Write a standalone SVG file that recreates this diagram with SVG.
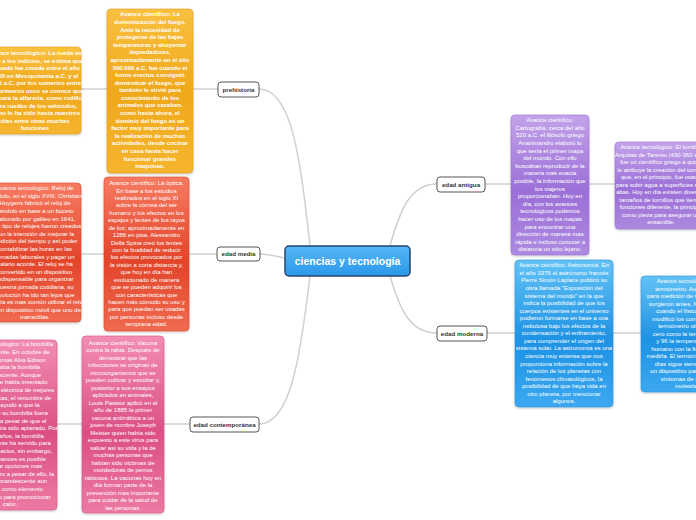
<svg xmlns="http://www.w3.org/2000/svg" width="696" height="520" viewBox="0 0 696 520">
<defs>
<linearGradient id="gO" x1="0" y1="0" x2="0" y2="1"><stop offset="0" stop-color="#f9c040"/><stop offset="0.5" stop-color="#f0a81c"/><stop offset="1" stop-color="#f5b52e"/></linearGradient>
<linearGradient id="gR" x1="0" y1="0" x2="0" y2="1"><stop offset="0" stop-color="#f77b62"/><stop offset="0.55" stop-color="#e2452a"/><stop offset="1" stop-color="#f06a50"/></linearGradient>
<linearGradient id="gP" x1="0" y1="0" x2="0" y2="1"><stop offset="0" stop-color="#f28db3"/><stop offset="0.55" stop-color="#dc4f84"/><stop offset="1" stop-color="#ec7aa3"/></linearGradient>
<linearGradient id="gV" x1="0" y1="0" x2="0" y2="1"><stop offset="0" stop-color="#c3a3ea"/><stop offset="0.55" stop-color="#9b6fd7"/><stop offset="1" stop-color="#ad8ae0"/></linearGradient>
<linearGradient id="gB" x1="0" y1="0" x2="0" y2="1"><stop offset="0" stop-color="#62c2f6"/><stop offset="0.55" stop-color="#1e92e4"/><stop offset="1" stop-color="#3ba8f0"/></linearGradient>
<linearGradient id="gC" x1="0" y1="0" x2="0" y2="1"><stop offset="0" stop-color="#56b6f6"/><stop offset="1" stop-color="#2a98ea"/></linearGradient>
<filter id="sh" x="-10%" y="-10%" width="120%" height="120%"><feDropShadow dx="0" dy="1" stdDeviation="1" flood-color="#000" flood-opacity="0.25"/></filter>
</defs>
<style>
.t{font-family:"Liberation Sans",Arial,sans-serif;font-size:6px;fill:#ffffff;text-anchor:middle}
.bold{font-weight:bold}
.bo{fill:url(#gO);stroke:#e39c18;stroke-width:0.6;filter:url(#sh)}
.br{fill:url(#gR);stroke:#d9462c;stroke-width:0.6;filter:url(#sh)}
.bp{fill:url(#gP);stroke:#d8508a;stroke-width:0.6;filter:url(#sh)}
.bv{fill:url(#gV);stroke:#9a70d4;stroke-width:0.6;filter:url(#sh)}
.bb{fill:url(#gB);stroke:#2a90dc;stroke-width:0.6;filter:url(#sh)}
.lab{fill:#ffffff;stroke:#555555;stroke-width:1}
.lt{font-family:"Liberation Sans",Arial,sans-serif;font-size:6.2px;font-weight:bold;fill:#333333;text-anchor:middle}
.c{fill:none;stroke:#d0d0d0;stroke-width:1.5}
</style>
<rect width="696" height="520" fill="#ffffff"/>
<g id="connectors">
<path class="c" d="M310,246 C300,150 290,89 259,89"/>
<path class="c" d="M285,258 C275,256 268,254 260,254"/>
<path class="c" d="M310,276 C300,360 290,424 259,424"/>
<path class="c" d="M390,246 C400,210 410,184 437,184"/>
<path class="c" d="M390,276 C400,310 410,333 437,333"/>
<path class="c" d="M218,89 L81,89"/>
<path class="c" d="M217,254 L81,254"/>
<path class="c" d="M190,424 L57,424"/>
<path class="c" d="M485,184 L615,184"/>
<path class="c" d="M487,333 L641,333"/>
</g>
<g id="central">
<rect x="285" y="246" width="125" height="30" rx="4" fill="url(#gC)" stroke="#24456e" stroke-width="1.5"/>
<text x="347.5" y="265" font-family="Liberation Sans,Arial,sans-serif" font-size="10.5" font-weight="bold" fill="#ffffff" text-anchor="middle">ciencias y tecnología</text>
</g>
<g id="prehistoria"><rect class="lab" x="218" y="82" width="41" height="15" rx="3"/><text class="lt" x="238.5" y="91.8">prehistoria</text></g>
<g id="edad-media"><rect class="lab" x="217" y="247" width="43" height="14" rx="3"/><text class="lt" x="238.5" y="256.2">edad media</text></g>
<g id="edad-contemporanea"><rect class="lab" x="190" y="417" width="69" height="15" rx="3"/><text class="lt" x="224.5" y="426.8">edad contemporánea</text></g>
<g id="edad-antigua"><rect class="lab" x="437" y="177" width="48" height="15" rx="3"/><text class="lt" x="461" y="186.8">edad antigua</text></g>
<g id="edad-moderna"><rect class="lab" x="437" y="326" width="50" height="15" rx="3"/><text class="lt" x="462" y="335.8">edad moderna</text></g>
<g id="rueda">
<rect class="bo" x="-11" y="47" width="92" height="87" rx="4"/>
<text class="t bold" x="35" y="55"><tspan x="35">Avance tecnológico: La rueda en</tspan><tspan x="35" dy="7.53">base a los indicios, se estima que</tspan><tspan x="35" dy="7.53">la rueda fue creada entre el año</tspan><tspan x="35" dy="7.53">3500 en Mesopotamia a.C. y el</tspan><tspan x="35" dy="7.53">3000 a.C. por los sumerios entre</tspan><tspan x="35" dy="7.53">sus primeros usos se conoce que</tspan><tspan x="35" dy="7.53">fue para la alfarería, como rodillo</tspan><tspan x="35" dy="7.53">para ruedas de los vehículos,</tspan><tspan x="35" dy="7.53">como lo ha sido hasta nuestros</tspan><tspan x="35" dy="7.53">días entre otras muchas</tspan><tspan x="35" dy="7.53">funciones</tspan></text>
</g>
<g id="fuego">
<rect class="bo" x="107" y="9" width="86" height="164" rx="4"/>
<text class="t bold" x="150" y="16.3"><tspan x="150">Avance científico: La</tspan><tspan x="150" dy="7.6">domesticación del fuego.</tspan><tspan x="150" dy="7.6">Ante la necesidad de</tspan><tspan x="150" dy="7.6">protegerse de las bajas</tspan><tspan x="150" dy="7.6">temperaturas y ahuyentar</tspan><tspan x="150" dy="7.6">depredadores,</tspan><tspan x="150" dy="7.6">aproximadamente en el año</tspan><tspan x="150" dy="7.6">500.000 a.C. fue cuando el</tspan><tspan x="150" dy="7.6">homo erectus consiguió</tspan><tspan x="150" dy="7.6">domesticar el fuego, que</tspan><tspan x="150" dy="7.6">también le sirvió para</tspan><tspan x="150" dy="7.6">conocimiento de los</tspan><tspan x="150" dy="7.6">animales que cazaban.</tspan><tspan x="150" dy="7.6">como hasta ahora, el</tspan><tspan x="150" dy="7.6">dominio del fuego es un</tspan><tspan x="150" dy="7.6">factor muy importante para</tspan><tspan x="150" dy="7.6">la realización de muchas</tspan><tspan x="150" dy="7.6">actividades, desde cocinar</tspan><tspan x="150" dy="7.6">en casa hasta hacer</tspan><tspan x="150" dy="7.6">funcionar grandes</tspan><tspan x="150" dy="7.6">maquinas.</tspan></text>
</g>
<g id="reloj">
<rect class="br" x="-11" y="183" width="92" height="139" rx="4"/>
<text class="t" x="35" y="190.3"><tspan x="35">Avance tecnológico: Reloj de</tspan><tspan x="35" dy="7.59">péndulo, en el siglo XVIII. Christian</tspan><tspan x="35" dy="7.59">Huygens fabricó el reloj de</tspan><tspan x="35" dy="7.59">péndulo en base a un boceto</tspan><tspan x="35" dy="7.59">elaborado por galileo en 1641.</tspan><tspan x="35" dy="7.59">Este tipo de relojes fueron creados</tspan><tspan x="35" dy="7.59">con la intención de mejorar la</tspan><tspan x="35" dy="7.59">medición del tiempo y así poder</tspan><tspan x="35" dy="7.59">contabilizar las horas en las</tspan><tspan x="35" dy="7.59">jornadas laborales y pagar un</tspan><tspan x="35" dy="7.59">salario acorde. El reloj se ha</tspan><tspan x="35" dy="7.59">convertido en un dispositivo</tspan><tspan x="35" dy="7.59">indispensable para organizar</tspan><tspan x="35" dy="7.59">nuestra jornada cotidiana, su</tspan><tspan x="35" dy="7.59">evolución ha ido tan lejos que</tspan><tspan x="35" dy="7.59">hoy día es mas común utilizar el reloj</tspan><tspan x="35" dy="7.59">en un dispositivo móvil que uno de</tspan><tspan x="35" dy="7.59">manecillas.</tspan></text>
</g>
<g id="optica">
<rect class="br" x="104" y="177" width="85" height="154" rx="4"/>
<text class="t" x="146.5" y="185.1"><tspan x="146.5">Avance científico: La óptica.</tspan><tspan x="146.5" dy="7.43">En base a los estudios</tspan><tspan x="146.5" dy="7.43">realizados en el siglo XI</tspan><tspan x="146.5" dy="7.43">sobre la córnea del ser</tspan><tspan x="146.5" dy="7.43">humano y los efectos en los</tspan><tspan x="146.5" dy="7.43">espejos y lentes de los rayos</tspan><tspan x="146.5" dy="7.43">de luz; aproximadamente en</tspan><tspan x="146.5" dy="7.43">1286 en pisa, Alessandro</tspan><tspan x="146.5" dy="7.43">Della Spina creó los lentes</tspan><tspan x="146.5" dy="7.43">con la finalidad de reducir</tspan><tspan x="146.5" dy="7.43">los efectos provocados por</tspan><tspan x="146.5" dy="7.43">la visión a corta distancia y,</tspan><tspan x="146.5" dy="7.43">que hoy en día han</tspan><tspan x="146.5" dy="7.43">evolucionado de manera</tspan><tspan x="146.5" dy="7.43">que se pueden adquirir los</tspan><tspan x="146.5" dy="7.43">con características que</tspan><tspan x="146.5" dy="7.43">hacen más cómodo su uso y</tspan><tspan x="146.5" dy="7.43">para que puedan ser usadas</tspan><tspan x="146.5" dy="7.43">por personas incluso desde</tspan><tspan x="146.5" dy="7.43">temprana edad.</tspan></text>
</g>
<g id="bombilla">
<rect class="bp" x="-36" y="340" width="93" height="170" rx="4"/>
<text class="t" x="10" y="346.3"><tspan x="10">Avance tecnológico: La bombilla</tspan><tspan x="10" dy="7.62">incandescente. En octubre de</tspan><tspan x="10" dy="7.62">1879, Thomas Alva Edison</tspan><tspan x="10" dy="7.62">presentaba la bombilla</tspan><tspan x="10" dy="7.62">incandescente. Aunque</tspan><tspan x="10" dy="7.62">antes ya se había inventado</tspan><tspan x="10" dy="7.62">una lámpara eléctrica de mejores</tspan><tspan x="10" dy="7.62">características, el renombre de</tspan><tspan x="10" dy="7.62">Edison ayudó a que la</tspan><tspan x="10" dy="7.62">patente de su bombilla fuera</tspan><tspan x="10" dy="7.62">aceptada a pesar de que el</tspan><tspan x="10" dy="7.62">invento ya había sido aplazado. Por</tspan><tspan x="10" dy="7.62">muchos años, la bombilla</tspan><tspan x="10" dy="7.62">incandescente ha servido para</tspan><tspan x="10" dy="7.62">iluminar espacios, sin embargo,</tspan><tspan x="10" dy="7.62">con los avances es posible</tspan><tspan x="10" dy="7.62">encontrar opciones mas</tspan><tspan x="10" dy="7.62">eficientes pero a pesar de ello, la</tspan><tspan x="10" dy="7.62">bombilla incandescente aun</tspan><tspan x="10" dy="7.62">se utiliza como elemento</tspan><tspan x="10" dy="7.62">decorativo o para promocionar</tspan><tspan x="10" dy="7.62">calor.</tspan></text>
</g>
<g id="vacuna">
<rect class="bp" x="82" y="336" width="82" height="177" rx="4"/>
<text class="t" x="123" y="344.5"><tspan x="123">Avance científico: Vacuna</tspan><tspan x="123" dy="7.52">contra la rabia. Después de</tspan><tspan x="123" dy="7.52">demostrar que las</tspan><tspan x="123" dy="7.52">infecciones se originan de</tspan><tspan x="123" dy="7.52">microorganismos que se</tspan><tspan x="123" dy="7.52">pueden cultivar y estudiar y,</tspan><tspan x="123" dy="7.52">posterior a sus ensayos</tspan><tspan x="123" dy="7.52">aplicados en animales,</tspan><tspan x="123" dy="7.52">Louis Pasteur aplicó en el</tspan><tspan x="123" dy="7.52">año de 1885 la primer</tspan><tspan x="123" dy="7.52">vacuna antirrábica a un</tspan><tspan x="123" dy="7.52">joven de nombre Joseph</tspan><tspan x="123" dy="7.52">Meister quien había sido</tspan><tspan x="123" dy="7.52">expuesto a este virus para</tspan><tspan x="123" dy="7.52">salvar así su vida y la de</tspan><tspan x="123" dy="7.52">muchas personas que</tspan><tspan x="123" dy="7.52">habían sido víctimas de</tspan><tspan x="123" dy="7.52">mordeduras de perros</tspan><tspan x="123" dy="7.52">rabiosos. La vacunas hoy en</tspan><tspan x="123" dy="7.52">día forman parte de la</tspan><tspan x="123" dy="7.52">prevención mas importante</tspan><tspan x="123" dy="7.52">para cuidar de la salud de</tspan><tspan x="123" dy="7.52">las personas.</tspan></text>
</g>
<g id="cartografia">
<rect class="bv" x="511" y="115" width="78" height="140" rx="4"/>
<text class="t" x="550" y="122.3"><tspan x="550">Avance científico:</tspan><tspan x="550" dy="7.59">Cartografía, cerca del año</tspan><tspan x="550" dy="7.59">520 a.C. el filósofo griego</tspan><tspan x="550" dy="7.59">Anaximandro elaboró lo</tspan><tspan x="550" dy="7.59">que sería el primer mapa</tspan><tspan x="550" dy="7.59">del mundo. Con ello</tspan><tspan x="550" dy="7.59">buscaban reproducir de la</tspan><tspan x="550" dy="7.59">manera mas exacta</tspan><tspan x="550" dy="7.59">posible, la información que</tspan><tspan x="550" dy="7.59">los viajeros</tspan><tspan x="550" dy="7.59">proporcionaban. Hoy en</tspan><tspan x="550" dy="7.59">día, con los avances</tspan><tspan x="550" dy="7.59">tecnológicos podemos</tspan><tspan x="550" dy="7.59">hacer uso de los mapas</tspan><tspan x="550" dy="7.59">para encontrar una</tspan><tspan x="550" dy="7.59">dirección de manera mas</tspan><tspan x="550" dy="7.59">rápida e incluso conocer a</tspan><tspan x="550" dy="7.59">distancia un sitio lejano.</tspan></text>
</g>
<g id="tornillo">
<rect class="bv" x="615" y="142" width="94" height="87" rx="4"/>
<text class="t" x="661" y="149.3"><tspan x="661">Avance tecnológico: El tornillo.</tspan><tspan x="661" dy="7.47">Arquitas de Tarento (430-360 a.C.)</tspan><tspan x="661" dy="7.47">fue un científico griego a quien</tspan><tspan x="661" dy="7.47">le atribuye la creación del tornillo</tspan><tspan x="661" dy="7.47">que, en el principio, fue usado</tspan><tspan x="661" dy="7.47">para subir agua a superficies mas</tspan><tspan x="661" dy="7.47">altas. Hoy en día existen diversos</tspan><tspan x="661" dy="7.47">tamaños de tornillos que tienen</tspan><tspan x="661" dy="7.47">funciones diferente, la principal</tspan><tspan x="661" dy="7.47">como pieza para asegurar un</tspan><tspan x="661" dy="7.47">ensamble.</tspan></text>
</g>
<g id="astronomia">
<rect class="bb" x="515" y="260" width="98" height="147" rx="4"/>
<text class="t" x="564" y="267.3"><tspan x="564">Avance científico: Astronomía. En</tspan><tspan x="564" dy="7.56">el año 1976 el astrónomo francés</tspan><tspan x="564" dy="7.56">Pierre Simón Laplace publicó su</tspan><tspan x="564" dy="7.56">obra llamada "Exposición del</tspan><tspan x="564" dy="7.56">sistema del mundo" en la que</tspan><tspan x="564" dy="7.56">indica la posibilidad de que los</tspan><tspan x="564" dy="7.56">cuerpos existentes en el universo</tspan><tspan x="564" dy="7.56">pudieron formarse en base a una</tspan><tspan x="564" dy="7.56">nebulosa bajo los efectos de la</tspan><tspan x="564" dy="7.56">condensación y el enfriamiento,</tspan><tspan x="564" dy="7.56">para comprender el origen del</tspan><tspan x="564" dy="7.56">sistema solar. La astronomía es una</tspan><tspan x="564" dy="7.56">ciencia muy extensa que nos</tspan><tspan x="564" dy="7.56">proporciona información sobre la</tspan><tspan x="564" dy="7.56">relación de los planetas con</tspan><tspan x="564" dy="7.56">fenómenos climatológicos, la</tspan><tspan x="564" dy="7.56">posibilidad de que haya vida en</tspan><tspan x="564" dy="7.56">otro planeta, por mencionar</tspan><tspan x="564" dy="7.56">algunos.</tspan></text>
</g>
<g id="termometro">
<rect class="bb" x="641" y="276" width="94" height="116" rx="4"/>
<text class="t" x="687" y="283"><tspan x="687">Avance tecnológico: El</tspan><tspan x="687" dy="7.5">termómetro. Aunque los</tspan><tspan x="687" dy="7.5">para medición de temperatura</tspan><tspan x="687" dy="7.5">surgieron antes, fue en 1714</tspan><tspan x="687" dy="7.5">cuando el físico Galileo</tspan><tspan x="687" dy="7.5">modificó los componentes</tspan><tspan x="687" dy="7.5">termómetro utilizando</tspan><tspan x="687" dy="7.5">cero como la temperatura</tspan><tspan x="687" dy="7.5">y 96 la temperatura del</tspan><tspan x="687" dy="7.5">humano con la finalidad de</tspan><tspan x="687" dy="7.5">medirla. El termómetro hoy en</tspan><tspan x="687" dy="7.5">días sigue siendo usado</tspan><tspan x="687" dy="7.5">un dispositivo para detectar</tspan><tspan x="687" dy="7.5">síntomas de alguna</tspan><tspan x="687" dy="7.5">molestia.</tspan></text>
</g>
</svg>
